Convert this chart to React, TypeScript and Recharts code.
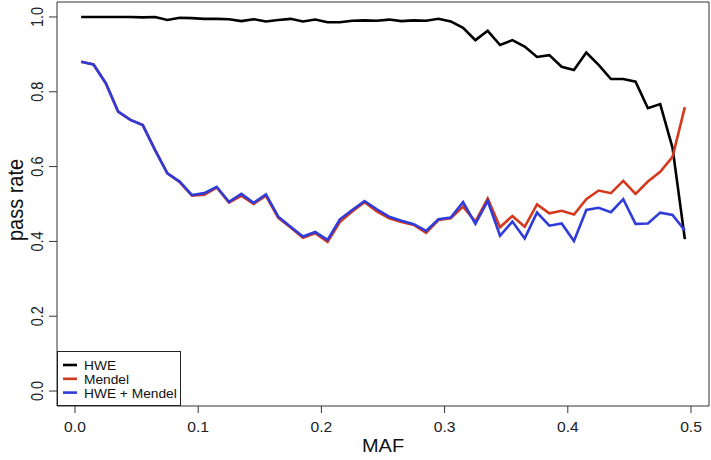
import React from 'react';
import { LineChart, Line, XAxis, YAxis, ReferenceArea, Label } from 'recharts';

const maf = [
  0.005, 0.015, 0.025, 0.035, 0.045, 0.055, 0.065, 0.075, 0.085, 0.095,
  0.105, 0.115, 0.125, 0.135, 0.145, 0.155, 0.165, 0.175, 0.185, 0.195,
  0.205, 0.215, 0.225, 0.235, 0.245, 0.255, 0.265, 0.275, 0.285, 0.295,
  0.305, 0.315, 0.325, 0.335, 0.345, 0.355, 0.365, 0.375, 0.385, 0.395,
  0.405, 0.415, 0.425, 0.435, 0.445, 0.455, 0.465, 0.475, 0.485, 0.495,
];

const hwe = [
  1, 1, 1, 1, 1, 0.999, 1, 0.992, 0.998, 0.997,
  0.995, 0.995, 0.994, 0.989, 0.994, 0.988, 0.992, 0.995, 0.988, 0.993,
  0.986, 0.986, 0.99, 0.991, 0.99, 0.993, 0.989, 0.991, 0.99, 0.995,
  0.988, 0.971, 0.938, 0.963, 0.925, 0.938, 0.921, 0.893, 0.898, 0.867,
  0.858, 0.905, 0.872, 0.834, 0.834, 0.827, 0.756, 0.767, 0.65, 0.406,
];

const mendel = [
  0.88, 0.873, 0.823, 0.747, 0.725, 0.711, 0.644, 0.582, 0.558, 0.522,
  0.525, 0.544, 0.504, 0.522, 0.5, 0.522, 0.463, 0.437, 0.41, 0.422,
  0.399, 0.452, 0.48, 0.505, 0.48, 0.462, 0.452, 0.444, 0.423, 0.457,
  0.462, 0.493, 0.453, 0.515, 0.438, 0.468, 0.439, 0.499, 0.475, 0.482,
  0.472, 0.513, 0.536, 0.529, 0.562, 0.527, 0.56, 0.586, 0.626, 0.759,
];

const both = [
  0.88, 0.873, 0.823, 0.747, 0.725, 0.711, 0.644, 0.582, 0.56, 0.524,
  0.529, 0.546, 0.506, 0.527, 0.503, 0.526, 0.466, 0.439, 0.413, 0.425,
  0.404, 0.459, 0.484, 0.508, 0.486, 0.466, 0.455, 0.446, 0.428, 0.459,
  0.464, 0.505, 0.447, 0.508, 0.415, 0.453, 0.408, 0.477, 0.442, 0.448,
  0.401, 0.484, 0.49, 0.478, 0.513, 0.447, 0.448, 0.477, 0.471, 0.429,
];

const xTicks = [0, 0.1, 0.2, 0.3, 0.4, 0.5];
const yTicks = [0, 0.2, 0.4, 0.6, 0.8, 1.0];

const series = [
  { key: 'hwe', name: 'HWE', color: '#000000' },
  { key: 'mendel', name: 'Mendel', color: '#d4391c' },
  { key: 'both', name: 'HWE + Mendel', color: '#2f3cd9' },
];

const data = maf.map((m, i) => ({ maf: m, hwe: hwe[i], mendel: mendel[i], both: both[i] }));

// R pads the axis range by 4% on each side
const X_DOMAIN: [number, number] = [-0.0196 + 0.005, 0.495 + 0.0196];
const Y_DOMAIN: [number, number] = [-0.04, 1.04];

const FONT = '"Liberation Sans", Arial, Helvetica, sans-serif';
const SX = 1.08; // the picture is a bit stretched sideways

const XTick = (props: any) => {
  const { x, y, payload } = props;
  return (
    <text transform={`translate(${x},${y}) scale(${SX},1)`} textAnchor="middle" fontSize={14.5} fill="#222" fontFamily={FONT}>
      {payload.value.toFixed(1)}
    </text>
  );
};

const YTick = (props: any) => {
  const { x, y, payload } = props;
  return (
    <text transform={`translate(${x},${y}) scale(${SX},1) rotate(-90)`} textAnchor="middle" fontSize={14.5} fill="#222" fontFamily={FONT}>
      {payload.value.toFixed(1)}
    </text>
  );
};

const XLabel = (props: any) => {
  const { viewBox } = props;
  return (
    <text transform={`translate(${viewBox.x + viewBox.width / 2},452) scale(${SX},1)`} textAnchor="middle" fontSize={18.5} fill="#111" fontFamily={FONT}>
      MAF
    </text>
  );
};

const YLabel = (props: any) => {
  const { viewBox } = props;
  return (
    <text transform={`translate(23,${viewBox.y + viewBox.height / 2 - 4}) scale(${SX},1) rotate(-90)`} textAnchor="middle" fontSize={20} fill="#111" fontFamily={FONT}>
      pass rate
    </text>
  );
};

const LegendBox = () => (
  <svg width={124} height={55} style={{ position: 'absolute', left: 57, top: 351 }}>
    <rect x={0.5} y={0.5} width={123} height={54} fill="#fff" stroke="#222" strokeWidth={1} />
    {series.map((s, i) => (
      <g key={s.key}>
        <line x1={6} x2={20} y1={14 + i * 13.8} y2={14 + i * 13.8} stroke={s.color} strokeWidth={2.6} />
        <text transform={`translate(27,${19 + i * 13.8}) scale(1.1,1)`} fontSize={12.5} fill="#111" fontFamily={FONT}>
          {s.name}
        </text>
      </g>
    ))}
  </svg>
);

export default function App() {
  return (
    <div style={{ position: 'absolute', left: 0, top: 0, width: 711, height: 460, background: '#fff' }}>
      <LineChart width={711} height={460} data={data} margin={{ top: 2, right: 2, left: 0, bottom: 0 }}>
        <XAxis
          dataKey="maf"
          type="number"
          domain={X_DOMAIN}
          ticks={xTicks}
          allowDataOverflow
          axisLine={false}
          tickLine={{ stroke: '#333' }}
          tickSize={7}
          tickMargin={19}
          tick={XTick}
          height={54}
        >
          <Label content={XLabel} />
        </XAxis>
        <YAxis
          type="number"
          domain={Y_DOMAIN}
          ticks={yTicks}
          allowDataOverflow
          axisLine={false}
          tickLine={{ stroke: '#333' }}
          tickSize={8}
          tickMargin={6}
          tick={YTick}
          width={57}
        >
          <Label content={YLabel} />
        </YAxis>
        <ReferenceArea
          x1={X_DOMAIN[0]}
          x2={X_DOMAIN[1]}
          y1={Y_DOMAIN[0]}
          y2={Y_DOMAIN[1]}
          fill="none"
          stroke="#333"
          strokeWidth={1}
          ifOverflow="visible"
        />
        {series.map(s => (
          <Line
            key={s.key}
            type="linear"
            dataKey={s.key}
            name={s.name}
            stroke={s.color}
            strokeWidth={2.6}
            dot={false}
            isAnimationActive={false}
          />
        ))}
      </LineChart>
      <LegendBox />
    </div>
  );
}
